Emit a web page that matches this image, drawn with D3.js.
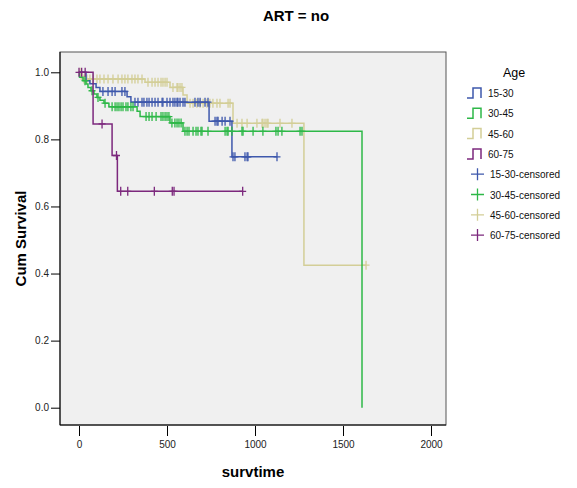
<!DOCTYPE html>
<html>
<head>
<meta charset="utf-8">
<script src="https://cdn.jsdelivr.net/npm/d3@7/dist/d3.min.js"></script>
<style>
  html, body { margin: 0; padding: 0; background: #ffffff; }
  svg { display: block; font-family: Arial, "Liberation Sans", sans-serif; }
</style>
</head>
<body>
<svg id="chart" width="577" height="488"></svg>
<script>
// Kaplan-Meier survival by age group (ART = no)
const groups = ["15-30", "30-45", "45-60", "60-75"];
const colors = ["#3e58ac", "#2eb848", "#d3ce97", "#7c287d"];

// event steps: [time, survival after the drop]
const steps1530 = [[40, 0.975], [62, 0.966], [97, 0.955], [119, 0.943], [273, 0.927], [295, 0.911],
                   [739, 0.854], [869, 0.748]];
const steps3045 = [[3, 0.985], [23, 0.975], [40, 0.965], [51, 0.955], [68, 0.945], [85, 0.935],
                   [102, 0.925], [119, 0.917], [142, 0.908], [170, 0.897], [330, 0.884], [347, 0.868],
                   [517, 0.849], [591, 0.824], [1608, 0.0]];
const steps4560 = [[17, 0.980], [375, 0.970], [517, 0.955], [591, 0.932], [614, 0.908],
                   [875, 0.848], [1278, 0.425]];
const steps6075 = [[80, 0.846], [188, 0.752], [218, 0.645]];

// censored observation times
const cens1530 = [136, 165, 188, 205, 244, 261,
                  318, 335, 358, 369, 386, 398, 415, 432, 449, 472, 477, 500, 517, 534, 545, 557, 562,
                  574, 591, 602, 659, 676, 688, 716, 733,
                  773, 784, 790, 813, 830, 858,
                  875, 886, 943, 955, 960, 1125];
const cens3045 = [34, 74, 108, 148,
                  188, 205, 216, 227, 239, 250, 267, 278, 295, 307,
                  381, 398, 415, 438, 466, 477, 489, 500, 511,
                  528, 545, 557, 568, 580,
                  602, 614, 625, 648, 665, 676, 693, 699, 733, 830, 841, 847, 869, 926, 932, 989,
                  1045, 1119, 1131, 1153, 1256, 1267];
const cens4560 = [6, 28, 45, 62, 80, 102, 119, 142, 165, 193, 222, 244, 261, 278, 301, 318, 335, 358,
                  392, 415, 432, 449, 466, 477, 489, 500,
                  534, 557, 562, 574, 585,
                  631, 648, 670, 688, 705, 727, 744, 761, 784, 801, 847, 858,
                  898, 926, 955, 1011, 1040, 1045, 1057, 1068, 1074, 1142, 1210,
                  1631];
const cens6075 = [0, 15, 35, 131, 213, 237, 277, 428, 530, 540, 930];

const xTicks = [0, 500, 1000, 1500, 2000];
const yTicks = [0.0, 0.2, 0.4, 0.6, 0.8, 1.0];

const series = [
  { name: groups[0], color: colors[0], steps: steps1530, cens: cens1530 },
  { name: groups[1], color: colors[1], steps: steps3045, cens: cens3045 },
  { name: groups[2], color: colors[2], steps: steps4560, cens: cens4560 },
  { name: groups[3], color: colors[3], steps: steps6075, cens: cens6075 }
];

const svg = d3.select("#chart");

// plot frame
const frame = { left: 60, right: 446, top: 52, bottom: 425 };
const x = d3.scaleLinear().domain([0, 2000]).range([79, 431]);
const y = d3.scaleLinear().domain([0, 1]).range([407.7, 72.3]);

svg.append("rect")
  .attr("x", frame.left).attr("y", frame.top)
  .attr("width", frame.right - frame.left).attr("height", frame.bottom - frame.top)
  .attr("fill", "#f0f0f0").attr("stroke", "#555").attr("stroke-width", 1);

// y axis
const yAxis = svg.append("g")
  .attr("transform", `translate(${frame.left},0)`)
  .call(d3.axisLeft(y).tickValues(yTicks).tickFormat(d3.format(".1f")).tickSize(9).tickPadding(2));
yAxis.select(".domain").attr("d", `M0,${frame.top}V${frame.bottom}`).attr("stroke", "#000");
yAxis.selectAll(".tick line").attr("stroke", "#000");
yAxis.selectAll(".tick text").attr("font-size", 10).attr("fill", "#222")
  .attr("font-family", "Arial, 'Liberation Sans', sans-serif");

// x axis
const xAxis = svg.append("g")
  .attr("transform", `translate(0,${frame.bottom + 1})`)
  .call(d3.axisBottom(x).tickValues(xTicks).tickFormat(d3.format("d")).tickSize(10).tickPadding(5));
xAxis.select(".domain").remove();
xAxis.selectAll(".tick line").attr("stroke", "#000");
xAxis.selectAll(".tick text").attr("font-size", 10).attr("fill", "#222")
  .attr("font-family", "Arial, 'Liberation Sans', sans-serif");
svg.append("line")
  .attr("x1", frame.left).attr("x2", frame.right)
  .attr("y1", frame.bottom).attr("y2", frame.bottom)
  .attr("stroke", "#000");

// survival at a given time
function survAt(steps, t) {
  let s = 1;
  for (const [ts, v] of steps) { if (ts <= t) s = v; }
  return s;
}

const line = d3.line().x(d => x(d[0])).y(d => y(d[1])).curve(d3.curveStepAfter);

const drawOrder = [2, 0, 1, 3];
const plot = svg.append("g");
drawOrder.forEach(i => {
  const s = series[i];
  const last = s.steps[s.steps.length - 1];
  const tEnd = Math.max(last[0], d3.max(s.cens));
  const pts = [[0, 1], ...s.steps, [tEnd, last[1]]];
  const g = plot.append("g");
  g.append("path")
    .attr("d", line(pts))
    .attr("fill", "none")
    .attr("stroke", s.color)
    .attr("stroke-width", 1.5);
  g.selectAll("path.cens")
    .data(s.cens)
    .join("path")
    .attr("class", "cens")
    .attr("transform", t => `translate(${x(t)},${y(survAt(s.steps, t))})`)
    .attr("d", "M-3.5,0H3.5M0,-4.5V4.5")
    .attr("stroke", s.color)
    .attr("stroke-width", 1.3)
    .attr("fill", "none");
});

// title and axis titles
svg.append("text")
  .attr("x", 296).attr("y", 21)
  .attr("text-anchor", "middle")
  .attr("font-size", 15).attr("font-weight", "bold")
  .text("ART = no");

svg.append("text")
  .attr("transform", `translate(26,${(frame.top + frame.bottom) / 2}) rotate(-90)`)
  .attr("text-anchor", "middle")
  .attr("font-size", 15).attr("font-weight", "bold")
  .text("Cum Survival");

svg.append("text")
  .attr("x", 253).attr("y", 477)
  .attr("text-anchor", "middle")
  .attr("font-size", 15).attr("font-weight", "bold")
  .text("survtime");

// legend
const legend = svg.append("g");
legend.append("text")
  .attr("x", 514).attr("y", 77)
  .attr("text-anchor", "middle")
  .attr("font-size", 12.5)
  .text("Age");

const rowY = i => 93 + 20.3 * i;
series.forEach((s, i) => {
  const cy = rowY(i);
  legend.append("path")
    .attr("d", `M467,${cy + 5}H473V${cy - 5}H481V${cy + 5}`)
    .attr("fill", "none").attr("stroke", s.color).attr("stroke-width", 1.5);
  legend.append("text")
    .attr("x", 488).attr("y", cy + 4)
    .attr("font-size", 10).attr("fill", "#111")
    .text(s.name);
});
series.forEach((s, i) => {
  const cy = rowY(i + 4);
  legend.append("path")
    .attr("d", `M471,${cy}H484M477.5,${cy - 6}V${cy + 6}`)
    .attr("fill", "none").attr("stroke", s.color).attr("stroke-width", 1.3);
  legend.append("text")
    .attr("x", 490).attr("y", cy + 4)
    .attr("font-size", 10).attr("fill", "#111")
    .text(s.name + "-censored");
});
</script>
</body>
</html>
